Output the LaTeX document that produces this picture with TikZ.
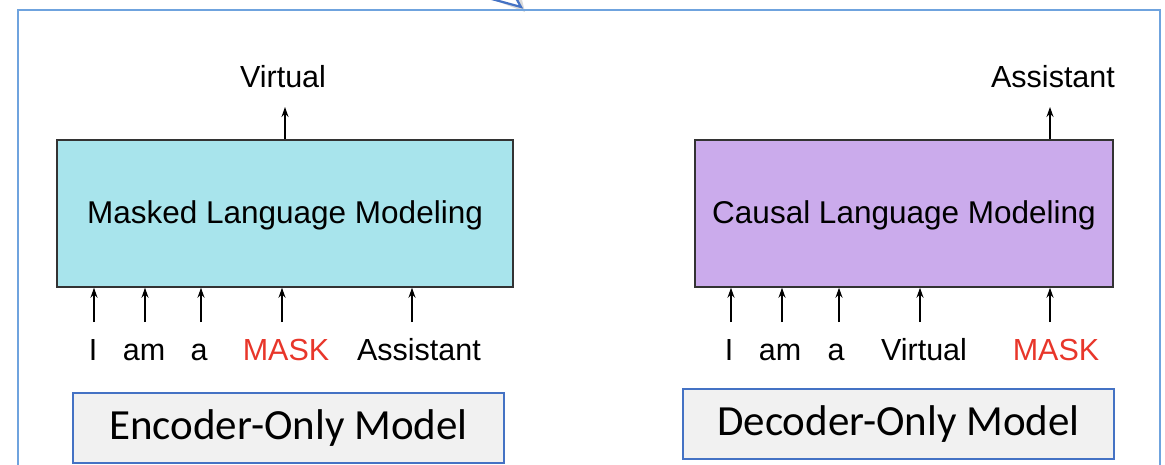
\documentclass[tikz,border=0pt]{standalone}
\usepackage{fontspec}
\setmainfont{Liberation Sans}
\newfontfamily\calib{Carlito}
\usetikzlibrary{arrows.meta}
\definecolor{frameblue}{HTML}{6FA3DE}
\definecolor{tagblue}{HTML}{4472C4}
\definecolor{cyanfill}{HTML}{A8E4EC}
\definecolor{lilacfill}{HTML}{CBABEC}
\definecolor{maskred}{HTML}{E8362A}
\definecolor{tagfill}{HTML}{F1F1F1}
\definecolor{edge}{HTML}{333333}
\tikzset{
  x=1pt, y=-1pt,
  lmbox/.style={draw=edge, line width=1.5pt, minimum width=456pt, minimum height=147pt,
    inner sep=0pt},
  lmtext/.style={font=\fontsize{31.5}{34}\selectfont, inner sep=0pt},
  token/.style={font=\fontsize{30.5}{34}\selectfont, anchor=base, inner sep=0pt},
  tag/.style={draw=tagblue, fill=tagfill, line width=2pt, minimum height=70pt,
    font=\calib\fontsize{43}{46}\selectfont, inner sep=0pt},
  feed/.style={-{Stealth[length=10pt,width=7pt]}, line width=1.3pt, black},
}
\begin{document}
\begin{tikzpicture}
\useasboundingbox (0,0) rectangle (1165,465);
\clip (0,0) rectangle (1165,465);

% callout tail above the frame
\fill[gray, opacity=0.3] (494,0) -- (525,12) -- (522,0) -- cycle;
\filldraw[fill=white, draw=tagblue, line width=2.2pt, line join=miter]
  (488,-2) -- (521,7) -- (516,-2);

% outer frame (its bottom edge lies below the page)
\draw[frameblue, line width=2pt] (18,480) -- (18,10) -- (1160,10) -- (1160,480);

% ---- encoder side ----
\node[lmbox, fill=cyanfill] (mlm) at (285,213.5) {};
\node[lmtext, anchor=base] (mlmt) at (285,224) {Masked Language Modeling};
\node[token] (outL) at (283,88) {Virtual};
\coordinate (outLs) at (285,107);
\draw[feed] (mlm.north -| outLs) -- (outLs);

\node[token] (l1) at (93,360) {I};
\node[token] (l2) at (144,360) {am};
\node[token] (l3) at (199,360) {a};
\node[token, text=maskred] (l4) at (286,360) {MASK};
\node[token] (l5) at (419,360) {Assistant};
\foreach \n/\x in {l1/94, l2/145, l3/201, l4/282, l5/412}{
  \coordinate (\n s) at (\x,322);
  \draw[feed] (\n s) -- (\n s |- mlm.south);
}
\node[tag, minimum width=431pt] (enc) at (288.5,428) {Encoder-Only Model};

% ---- decoder side ----
\node[lmbox, fill=lilacfill, minimum width=418pt] (clm) at (904,213.5) {};
\node[lmtext, anchor=base] (clmt) at (904,224) {Causal Language Modeling};
\node[token] (outR) at (1053,88) {Assistant};
\coordinate (outRs) at (1050,107);
\draw[feed] (clm.north -| outRs) -- (outRs);

\node[token] (r1) at (729,360) {I};
\node[token] (r2) at (780,360) {am};
\node[token] (r3) at (836,360) {a};
\node[token] (r4) at (924,360) {Virtual};
\node[token, text=maskred] (r5) at (1056,360) {MASK};
\foreach \n/\x in {r1/731, r2/782, r3/839, r4/920, r5/1050}{
  \coordinate (\n s) at (\x,322);
  \draw[feed] (\n s) -- (\n s |- clm.south);
}
\node[tag, minimum width=431pt] (dec) at (898.5,424) {Decoder-Only Model};
\end{tikzpicture}
\end{document}
